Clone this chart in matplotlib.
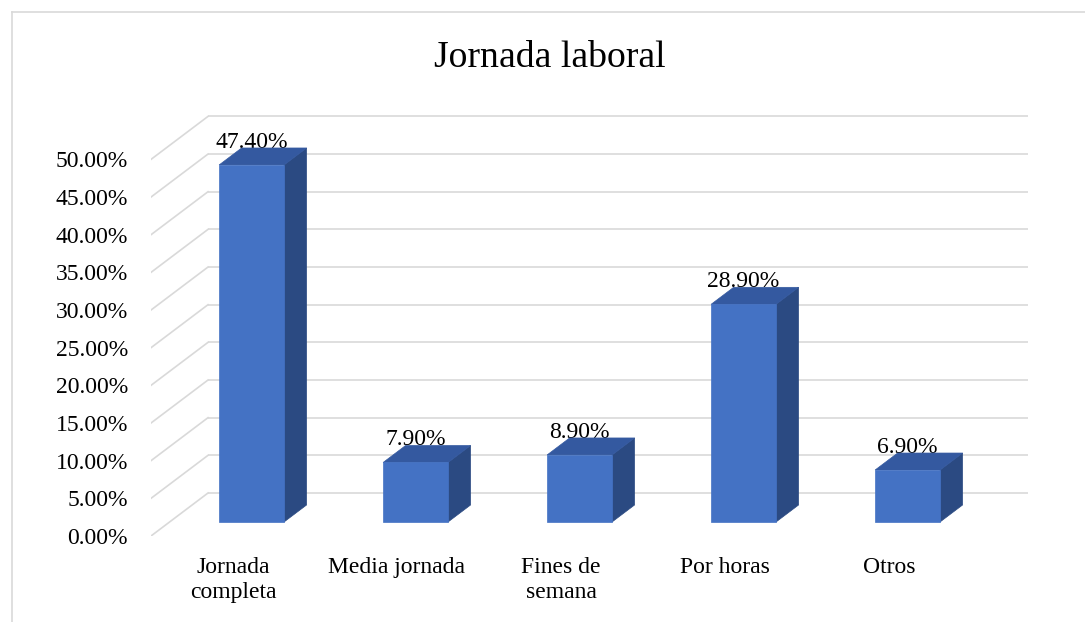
import matplotlib
matplotlib.use("Agg")
import matplotlib.pyplot as plt
from matplotlib.patches import Polygon
from matplotlib.lines import Line2D

plt.rcParams['font.family'] = ['Liberation Serif', 'DejaVu Serif']

# ---- data ----
categories = ["Jornada\ncompleta", "Media jornada", "Fines de\nsemana", "Por horas", "Otros"]
values = [47.4, 7.9, 8.9, 28.9, 6.9]
data_labels = ["47.40%", "7.90%", "8.90%", "28.90%", "6.90%"]
y_ticks = [0, 5, 10, 15, 20, 25, 30, 35, 40, 45, 50]
y_tick_labels = [f"{v:.2f}%" for v in y_ticks]
title = "Jornada laboral"

# ---- style / geometry ----
W, H = 1085, 622
FRONT = "#4472C4"
TOP = "#3459A0"
SIDE = "#2B4A82"
GRID = "#D9D9D9"
DX, DY = 57 / 164, 43 / 7.532          # full depth offset in data units
T0, T1 = 0.326, 0.721                  # bar depth span (fraction of depth)
BW = 0.396                             # bar width (category units)
FS = 17

fig = plt.figure(figsize=(W / 100, H / 100), dpi=100)
ax = fig.add_axes([151 / W, (H - 536) / H, 889 / W, 436 / H])
ax.set_xlim(0, 889 / 164)
ax.set_ylim(0, 436 / 7.532)
for s in ax.spines.values():
    s.set_visible(False)

# walls: back gridlines and side diagonals
n = len(categories)
for v in y_ticks:
    ax.plot([DX, n + DX], [v + DY, v + DY], color=GRID, lw=1.2, zorder=1,
            solid_capstyle='butt')
    ax.plot([0, DX], [v, v + DY], color=GRID, lw=1.2, zorder=1)

# bars
ox, oy = DX * (T1 - T0), DY * (T1 - T0)
for i, h in enumerate(values):
    x0 = i + 0.5 - BW / 2 + DX * T0
    y0 = DY * T0
    side = Polygon([(x0 + BW, y0), (x0 + BW + ox, y0 + oy),
                    (x0 + BW + ox, y0 + h + oy), (x0 + BW, y0 + h)],
                   closed=True, facecolor=SIDE, edgecolor=SIDE, lw=0.5, zorder=3)
    top = Polygon([(x0, y0 + h), (x0 + BW, y0 + h),
                   (x0 + BW + ox, y0 + h + oy), (x0 + ox, y0 + h + oy)],
                  closed=True, facecolor=TOP, edgecolor=TOP, lw=0.5, zorder=3)
    front = Polygon([(x0, y0), (x0 + BW, y0), (x0 + BW, y0 + h), (x0, y0 + h)],
                    closed=True, facecolor=FRONT, edgecolor=FRONT, lw=0.5, zorder=4)
    for p in (side, top, front):
        ax.add_patch(p)
    ax.text(x0 + BW / 2, y0 + h + oy, data_labels[i], ha='center', va='baseline',
            fontsize=FS, color='#000000', zorder=2)

ax.set_yticks(y_ticks)
ax.set_yticklabels(y_tick_labels, fontsize=FS)
ax.set_xticks([i + 0.5 for i in range(n)])
ax.set_xticklabels(categories, fontsize=FS, linespacing=1.28)
ax.tick_params(axis='y', length=0, pad=16.5)
ax.tick_params(axis='x', length=0, pad=15)

fig.text(550 / W, (H - 67) / H, title, ha='center', va='baseline', fontsize=27.2)

# chart frame
fig.add_artist(Line2D([12 / W, 12 / W], [(H - 12) / H, 0], color=GRID, lw=1.2,
                      transform=fig.transFigure))
fig.add_artist(Line2D([12 / W, 1], [(H - 12) / H, (H - 12) / H], color=GRID, lw=1.2,
                      transform=fig.transFigure))

fig.savefig("out.png", dpi=100)
